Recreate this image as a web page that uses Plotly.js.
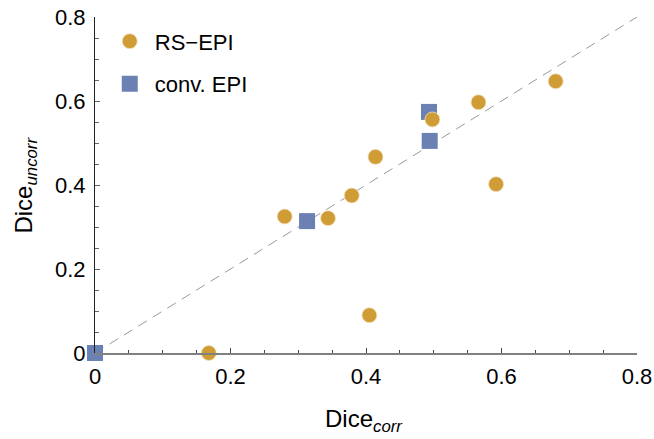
<!DOCTYPE html>
<html>
<head>
<meta charset="utf-8">
<script src="https://cdn.plot.ly/plotly-3.0.1.min.js"></script>
<style>html,body{margin:0;padding:0;background:#fff;}#chart{width:654px;height:439px;}</style>
</head>
<body>
<div id="chart"></div>
<script>
// RS-EPI points (Dice_corr, Dice_uncorr)
var rsX = [0.168, 0.280, 0.344, 0.379, 0.414, 0.498, 0.566, 0.592, 0.680, 0.405];
var rsY = [0.000, 0.325, 0.321, 0.375, 0.467, 0.556, 0.597, 0.402, 0.647, 0.090];
// conv. EPI points
var convX = [0.000, 0.313, 0.493, 0.494];
var convY = [0.000, 0.314, 0.574, 0.505];
// identity reference line
var diagX = [0, 0.8];
var diagY = [0, 0.8];
var tickVals = [0, 0.2, 0.4, 0.6, 0.8];
var tickText = ['0', '0.2', '0.4', '0.6', '0.8'];

var FONT = 'Liberation Sans, Arial, Helvetica, sans-serif';

var traces = [
  {x: diagX, y: diagY, mode: 'lines', type: 'scatter', showlegend: false, hoverinfo: 'skip',
   line: {color: '#999999', width: 1, dash: '10px,7px'}},
  {x: convX, y: convY, mode: 'markers', type: 'scatter', name: 'conv. EPI', cliponaxis: false,
   legendgroup: 'b', legendrank: 2,
   marker: {symbol: 'square', size: 16, color: '#6B80B3', line: {width: 0}}},
  {x: rsX, y: rsY, mode: 'markers', type: 'scatter', name: 'RS\u2212EPI', cliponaxis: false,
   legendgroup: 'a', legendrank: 1,
   marker: {symbol: 'circle', size: 15, color: '#D09C36', line: {width: 0.8, color: '#F3E3C4'}}}
];

var axisCommon = {
  range: [0, 0.8], showgrid: false, zeroline: false, showline: true,
  ticks: 'inside', ticklen: 5, tickwidth: 1,
  tickvals: tickVals, ticktext: tickText,
  tickfont: {family: FONT, size: 22, color: '#000'},
  layer: 'above traces', fixedrange: true
};

var layout = {
  width: 654, height: 439,
  margin: {l: 95, r: 17, t: 17, b: 86, pad: 0},
  paper_bgcolor: '#fff', plot_bgcolor: '#fff',
  font: {family: FONT, color: '#000'},
  xaxis: Object.assign({}, axisCommon, {
    linecolor: '#808080', linewidth: 1.5, tickcolor: '#444',
    ticklabelstandoff: 3,
    minor: {dtick: 0.05, ticks: 'inside', ticklen: 3.5, tickcolor: '#444', tickwidth: 1, showgrid: false}
  }),
  yaxis: Object.assign({}, axisCommon, {
    linecolor: '#222', linewidth: 1, tickcolor: '#666',
    ticklabelstandoff: 4,
    minor: {dtick: 0.05, ticks: 'inside', ticklen: 3.5, tickcolor: '#666', tickwidth: 1, showgrid: false}
  }),
  showlegend: true,
  legend: {
    x: 0.018, y: 0.99, xanchor: 'left', yanchor: 'top',
    traceorder: 'grouped', tracegroupgap: 11, itemwidth: 40,
    font: {family: FONT, size: 22, color: '#000'},
    bgcolor: 'rgba(0,0,0,0)', borderwidth: 0, itemsizing: 'trace'
  },
  annotations: [
    {xref: 'paper', yref: 'paper', x: 0.497, y: -0.2, xanchor: 'center', yanchor: 'middle',
     showarrow: false, text: 'Dice<sub><i>corr</i></sub>', font: {family: FONT, size: 24, color: '#000'}},
    {xref: 'paper', yref: 'paper', x: -0.13, y: 0.5, xanchor: 'center', yanchor: 'middle', textangle: -90,
     showarrow: false, text: 'Dice<sub><i>uncorr</i></sub>', font: {family: FONT, size: 24, color: '#000'}}
  ]
};

Plotly.newPlot('chart', traces, layout, {staticPlot: true, displayModeBar: false});
</script>
</body>
</html>
